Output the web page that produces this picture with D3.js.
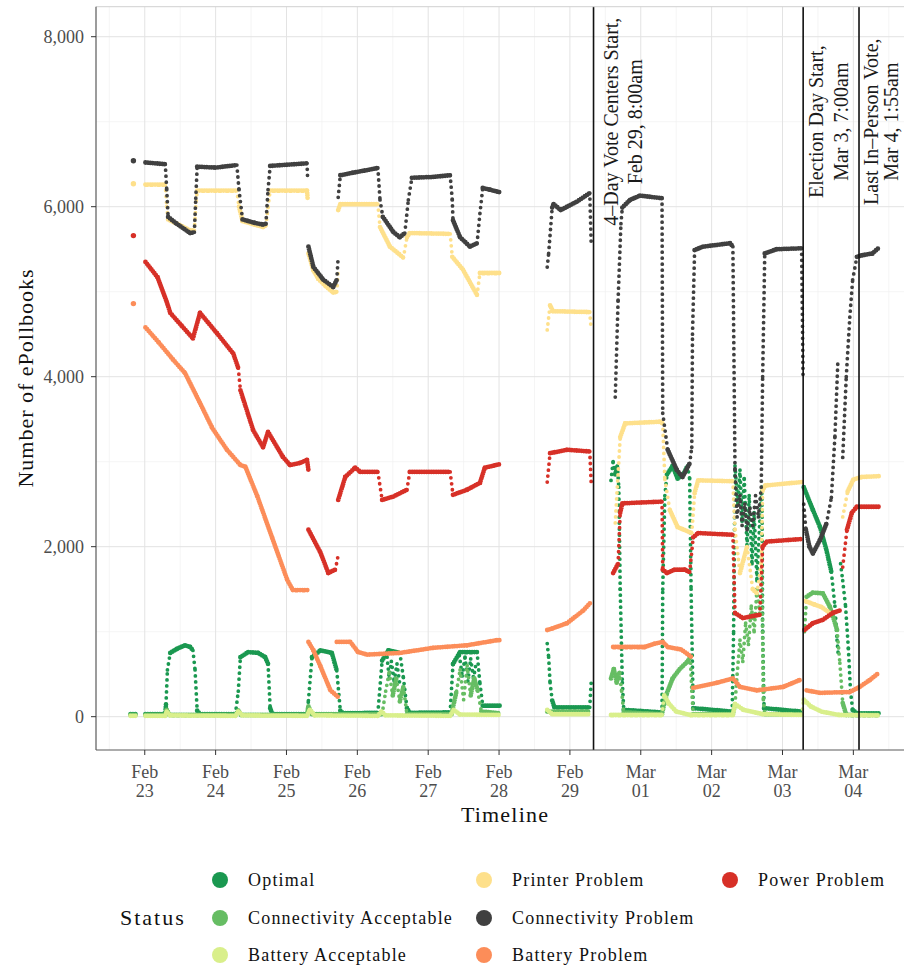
<!DOCTYPE html>
<html><head><meta charset="utf-8">
<script src="https://cdn.jsdelivr.net/npm/d3@7"></script>
<style>body{margin:0;background:#fff;}svg{display:block;}</style>
</head><body>
<svg id="chart" width="904" height="966"></svg>
<script>
// Time is given as days after Feb 23, 2020 00:00 (UTC); values are counts of ePollbooks.
// Each series is a list of runs (gaps in the data separate runs); each run is [day, count] pairs.
const statusNames = ["Optimal","Connectivity Acceptable","Battery Acceptable","Printer Problem","Connectivity Problem","Battery Problem","Power Problem"];
const statusColors = ["#1a9850","#66bd63","#d9ef8b","#fee08b","#404040","#fc8d59","#d73027"];

const optimalRuns = [
 [[-0.20,30],[-0.10,30]],
 [[0.01,30],[0.29,30],[0.30,150],[0.32,550],[0.36,750],[0.46,800],[0.57,840],[0.64,820],[0.68,780],[0.71,550],[0.74,70],[0.78,30],[1.28,30],[1.32,300],[1.35,700],[1.46,760],[1.60,750],[1.70,700],[1.74,620],[1.77,100],[1.80,30],[2.29,30],[2.31,190],[2.36,700],[2.48,780],[2.64,750],[2.71,540],[2.76,70],[2.80,40],[3.29,45],[3.35,660],[3.44,780],[3.60,750],[3.65,460],[3.70,100],[3.74,45],[4.31,50],[4.35,620],[4.45,760],[4.69,760],[4.73,390],[4.77,130],[5.01,130]],
 [[3.42,700],[3.45,450],[3.48,650],[3.52,420],[3.56,620],[3.60,380]],
 [[4.44,720],[4.48,480],[4.52,700],[4.56,420],[4.60,680],[4.64,450],[4.68,650]],
 [[5.68,860],[5.70,700],[5.72,400],[5.75,190],[5.78,110],[6.28,110],[6.30,400]],
 [[6.58,2780],[6.61,3000],[6.64,2850],[6.67,2950],[6.69,2700],[6.71,1500],[6.74,400],[6.76,80],[7.30,50],[7.31,1500],[7.34,2600],[7.37,2850],[7.45,2950],[7.52,2800],[7.60,2850],[7.66,2950],[7.69,2800],[7.71,1500],[7.74,100],[8.29,60],[8.31,1000],[8.33,2950],[8.37,2500],[8.40,2900],[8.43,2300],[8.46,2800],[8.50,2000],[8.53,2600],[8.57,1800],[8.60,2400],[8.64,1600],[8.68,2300],[8.71,2700],[8.72,1000],[8.74,100],[9.27,60]],
 [[9.30,2700],[9.43,2430],[9.53,2230],[9.62,1960],[9.69,1700],[9.74,1300],[9.77,900],[9.79,700]],
 [[9.82,1800],[9.85,1600],[9.89,1300],[9.93,800],[9.96,300],[9.99,80],[10.05,40],[10.37,40]]
];
const connAcceptableRuns = [
 [[-0.20,20],[-0.10,20]],
 [[0.01,20],[0.29,20],[0.31,80],[0.35,20],[1.28,20],[1.32,70],[1.36,20],[2.29,20],[2.31,120],[2.36,30],[3.35,30],[3.40,300],[3.45,520],[3.50,250],[3.55,450],[3.60,180],[3.65,350],[3.70,30],[4.33,30],[4.40,300],[4.45,550],[4.50,200],[4.55,600],[4.60,250],[4.65,450],[4.70,300],[4.75,60],[5.01,40]],
 [[5.68,60],[6.28,60]],
 [[6.58,450],[6.62,560],[6.66,400],[6.70,520],[6.73,300],[6.76,50],[7.30,30],[7.33,150],[7.37,280],[7.45,450],[7.55,560],[7.65,640],[7.70,700],[7.72,300],[7.74,30],[8.30,30],[8.33,150],[8.36,500],[8.40,900],[8.44,650],[8.48,1100],[8.52,850],[8.56,1300],[8.60,1000],[8.64,1500],[8.68,1200],[8.71,1700],[8.73,200],[8.75,30],[9.27,30]],
 [[9.31,1000],[9.34,1410],[9.43,1460],[9.57,1450],[9.67,1290],[9.77,1020],[9.81,630],[9.85,160],[9.90,20],[10.37,20]]
];
const battAcceptableRuns = [
 [[-0.20,10],[-0.10,10]],
 [[0.01,10],[0.29,10],[0.31,60],[0.36,15],[1.28,10],[1.32,60],[1.38,15],[2.29,10],[2.33,80],[2.40,15],[3.29,10],[3.34,60],[3.40,15],[4.31,10],[4.36,80],[4.45,25],[5.01,20]],
 [[5.68,80],[5.75,30],[6.28,30]],
 [[6.58,20],[7.30,20],[7.33,250],[7.40,150],[7.50,60],[7.70,20],[8.30,20],[8.33,150],[8.45,80],[8.72,30],[9.27,20],[9.30,200],[9.40,120],[9.55,60],[9.80,20],[10.37,15]]
];
const printerRuns = [
 [[-0.16,6270]],
 [[0.01,6260],[0.29,6260],[0.31,6000],[0.33,5850],[0.50,5780],[0.64,5720],[0.70,5720],[0.72,6000],[0.74,6190],[1.30,6190],[1.33,6000],[1.38,5830],[1.55,5790],[1.67,5760],[1.71,5780],[1.74,6000],[1.77,6190],[2.29,6190],[2.30,6080]],
 [[2.31,5450],[2.38,5250],[2.45,5150],[2.56,5060],[2.66,4990],[2.71,5000],[2.73,5250]],
 [[2.73,5960],[2.76,6030],[3.29,6030],[3.32,5760],[3.46,5530],[3.65,5400],[3.70,5640],[3.74,5690],[4.31,5680],[4.34,5410],[4.49,5260],[4.69,4960],[4.73,5220],[5.01,5220]],
 [[5.68,4550],[5.72,4840],[5.76,4770],[6.28,4760],[6.30,4550]],
 [[6.64,2280],[6.71,3290],[6.78,3450],[7.27,3470],[7.31,3450],[7.34,2790],[7.41,2430],[7.52,2230],[7.72,2160],[7.76,2630],[7.81,2780],[8.30,2770],[8.33,2200],[8.40,1690],[8.50,2000],[8.58,1500],[8.64,1450],[8.70,1800],[8.72,2667],[8.76,2720],[9.27,2760]],
 [[9.32,1360],[9.45,1320],[9.55,1290],[9.67,1220]],
 [[9.85,2350],[9.92,2650],[10.00,2790],[10.12,2820],[10.37,2830]]
];
const connProblemRuns = [
 [[-0.16,6540]],
 [[0.01,6520],[0.29,6500],[0.31,6200],[0.33,5880],[0.45,5800],[0.64,5690],[0.70,5700],[0.72,6100],[0.74,6470],[1.00,6460],[1.30,6490],[1.33,6200],[1.38,5850],[1.55,5810],[1.67,5790],[1.71,5800],[1.74,6200],[1.77,6480],[2.29,6510],[2.30,6300]],
 [[2.31,5530],[2.38,5290],[2.52,5140],[2.66,5055],[2.71,5140],[2.73,5410]],
 [[2.73,6110],[2.76,6370],[2.94,6400],[3.29,6455],[3.32,6080],[3.36,5880],[3.51,5700],[3.60,5640],[3.67,5690],[3.72,6080],[3.77,6340],[4.07,6350],[4.31,6370],[4.34,6080],[4.35,5840],[4.45,5640],[4.59,5530],[4.69,5570],[4.73,5920],[4.77,6220],[4.87,6200],[5.01,6170]],
 [[5.68,5290],[5.70,5450],[5.75,5990],[5.77,6030],[5.87,5960],[6.10,6060],[6.28,6160],[6.30,5570]],
 [[6.64,3760],[6.68,4900],[6.72,5800],[6.74,5990],[6.85,6080],[6.99,6130],[7.30,6100],[7.31,3570],[7.38,3140],[7.51,2900],[7.59,2820],[7.69,2980],[7.72,3170],[7.73,4500],[7.76,5490],[7.88,5530],[8.26,5570],[8.30,5530],[8.33,2900],[8.36,2350],[8.40,2600],[8.43,2250],[8.47,2500],[8.50,2200],[8.54,2450],[8.58,2250],[8.62,2600],[8.66,2350],[8.70,2700],[8.72,4000],[8.75,5450],[8.92,5500],[9.27,5510],[9.29,4000]],
 [[9.30,2500],[9.33,2200],[9.38,2000],[9.43,1920],[9.53,2080],[9.62,2270],[9.69,2580],[9.74,3300],[9.78,4150]],
 [[9.85,3050],[9.90,4000],[9.95,4700],[9.99,5140],[10.05,5410],[10.13,5430],[10.27,5450],[10.35,5510]]
];
const battProblemRuns = [
 [[-0.16,4860]],
 [[0.01,4580],[0.20,4400],[0.40,4200],[0.57,4040],[0.78,3690],[0.95,3400],[1.16,3140],[1.35,2960],[1.42,2940],[1.59,2590],[1.80,2100],[2.01,1610],[2.09,1490],[2.31,1490]],
 [[2.31,880],[2.38,780],[2.48,590],[2.62,310],[2.73,230]],
 [[2.71,880],[2.90,880],[3.01,760],[3.14,730],[3.60,750],[4.07,810],[4.55,840],[4.97,900],[5.01,900]],
 [[5.68,1020],[5.76,1040],[5.96,1100],[6.19,1250],[6.30,1350]],
 [[6.61,820],[7.06,820],[7.20,860],[7.31,880],[7.38,820],[7.57,790],[7.72,700]],
 [[7.74,340],[8.08,400],[8.30,450],[8.40,350],[8.64,310],[9.01,350],[9.24,430],[9.27,430]],
 [[9.34,310],[9.53,280],[9.95,290],[10.09,350],[10.23,430],[10.35,510]]
];
const powerRuns = [
 [[-0.16,5660]],
 [[0.01,5350],[0.18,5170],[0.31,4880],[0.36,4750],[0.53,4590],[0.68,4450],[0.78,4750],[1.02,4510],[1.25,4270],[1.32,4100],[1.35,3840],[1.53,3370],[1.67,3170],[1.74,3350],[1.95,3055],[2.05,2960],[2.19,2985],[2.29,3020],[2.31,2900]],
 [[2.31,2200],[2.48,1930],[2.59,1690],[2.69,1730],[2.73,1900]],
 [[2.73,2550],[2.83,2820],[2.97,2930],[3.04,2880],[3.29,2880],[3.35,2550],[3.51,2590],[3.70,2670],[3.74,2880],[4.31,2880],[4.35,2610],[4.55,2670],[4.73,2750],[4.80,2930],[5.01,2970]],
 [[5.68,2760],[5.72,3100],[5.96,3140],[6.28,3120],[6.30,2760]],
 [[6.61,1690],[6.68,1800],[6.71,2400],[6.74,2510],[7.30,2530],[7.31,1730],[7.37,1690],[7.48,1730],[7.62,1730],[7.69,1700],[7.74,2110],[7.81,2160],[8.30,2140],[8.33,1220],[8.44,1160],[8.68,1200],[8.72,2000],[8.78,2060],[9.27,2090]],
 [[9.31,1020],[9.43,1100],[9.57,1140],[9.71,1220],[9.81,1250]],
 [[9.85,1760],[9.91,2200],[9.98,2400],[10.05,2470],[10.37,2470]]
];
const seriesRuns = [optimalRuns, connAcceptableRuns, battAcceptableRuns, printerRuns, connProblemRuns, battProblemRuns, powerRuns];

// Events (days after Feb 23) and their two-line labels
const eventDays = [6 + 8/24, 9 + 7/24, 10 + (1 + 55/60)/24];
const eventLabels = [["4\u2013Day Vote Centers Start,","Feb 29, 8:00am"],["Election Day Start,","Mar 3, 7:00am"],["Last In\u2013Person Vote,","Mar 4, 1:55am"]];
const eventLabelValue = 7000;

const yTicks = [0, 2000, 4000, 6000, 8000];
const yMinor = [1000, 3000, 5000, 7000];

// ---------- scales ----------
const base = Date.UTC(2020, 1, 23);
const toDate = d => new Date(base + d * 864e5);
const panel = {left: 96, right: 915, top: 6.7, bottom: 750};
const x = d3.scaleUtc().domain([toDate(-0.688), toDate(10.87)]).range([panel.left, panel.right]);
const y = d3.scaleLinear().domain([-392, 8353]).range([panel.bottom, panel.top]);

const svg = d3.select("#chart");
const FONT = "'Liberation Serif','DejaVu Serif',serif";

// grid
const dayTicks = d3.utcDay.range(toDate(0), toDate(10.5));
const halfDays = d3.utcHour.every(12).range(toDate(-0.6), toDate(10.9)).filter(t => t.getUTCHours() === 12);
const g = svg.append("g");
g.selectAll(".ym").data(yMinor).join("line")
  .attr("x1", panel.left).attr("x2", panel.right).attr("y1", d => y(d)).attr("y2", d => y(d))
  .attr("stroke", "#f0f0f0").attr("stroke-width", 0.7);
g.selectAll(".xm").data(halfDays).join("line")
  .attr("x1", d => x(d)).attr("x2", d => x(d)).attr("y1", panel.top).attr("y2", panel.bottom)
  .attr("stroke", "#f0f0f0").attr("stroke-width", 0.7);
g.selectAll(".yM").data(yTicks).join("line")
  .attr("x1", panel.left).attr("x2", panel.right).attr("y1", d => y(d)).attr("y2", d => y(d))
  .attr("stroke", "#e3e3e3").attr("stroke-width", 1);
g.selectAll(".xM").data(dayTicks).join("line")
  .attr("x1", d => x(d)).attr("x2", d => x(d)).attr("y1", panel.top).attr("y2", panel.bottom)
  .attr("stroke", "#e3e3e3").attr("stroke-width", 1);

// data marks
svg.append("clipPath").attr("id", "clip").append("rect")
  .attr("x", panel.left).attr("y", panel.top).attr("width", panel.right - panel.left).attr("height", panel.bottom - panel.top);
const marks = svg.append("g").attr("clip-path", "url(#clip)");
seriesRuns.forEach((runs, si) => {
  const col = statusColors[si];
  const sg = marks.append("g");
  runs.forEach(run => {
    if (run.length === 1) {
      sg.append("circle").attr("cx", x(toDate(run[0][0]))).attr("cy", y(run[0][1])).attr("r", 2.7).attr("fill", col);
      return;
    }
    for (let i = 0; i < run.length - 1; i++) {
      const x1 = x(toDate(run[i][0])), y1 = y(run[i][1]);
      const x2 = x(toDate(run[i + 1][0])), y2 = y(run[i + 1][1]);
      const dx = Math.abs(x2 - x1), dy = Math.abs(y2 - y1);
      const sparse = dy > 5 * dx && dy > 12;
      sg.append("line").attr("x1", x1).attr("y1", y1).attr("x2", x2).attr("y2", y2)
        .attr("stroke", col).attr("stroke-width", sparse ? 3.8 : 4.8)
        .attr("stroke-linecap", "round")
        .attr("stroke-dasharray", sparse ? "0 6" : "0 2.4");
    }
  });
});

// event lines and labels
const ev = svg.append("g");
eventDays.forEach((d, i) => {
  const xv = x(toDate(d));
  ev.append("line").attr("x1", xv).attr("x2", xv).attr("y1", panel.top).attr("y2", panel.bottom)
    .attr("stroke", "#111").attr("stroke-width", 1.6);
  const offs = [[24, 48], [20, 45], [19, 39]][i];
  eventLabels[i].forEach((txt, j) => {
    ev.append("text").attr("transform", `translate(${xv + offs[j]},${y(eventLabelValue)}) rotate(-90)`)
      .attr("text-anchor", "middle").attr("font-family", FONT).attr("font-size", 20).attr("fill", "#1a1a1a")
      .text(txt);
  });
});

// panel borders / axes
svg.append("line").attr("x1", panel.left).attr("x2", panel.right).attr("y1", panel.top).attr("y2", panel.top).attr("stroke", "#d0d0d0");
svg.append("line").attr("x1", panel.left).attr("x2", panel.left).attr("y1", panel.top).attr("y2", panel.bottom).attr("stroke", "#5a5a5a").attr("stroke-width", 1.2);
svg.append("line").attr("x1", panel.left).attr("x2", panel.right).attr("y1", panel.bottom).attr("y2", panel.bottom).attr("stroke", "#5a5a5a").attr("stroke-width", 1.2);

// y axis
const ya = svg.append("g");
ya.selectAll("line").data(yTicks).join("line")
  .attr("x1", panel.left - 5).attr("x2", panel.left).attr("y1", d => y(d)).attr("y2", d => y(d)).attr("stroke", "#333");
ya.selectAll("text").data(yTicks).join("text")
  .attr("x", panel.left - 12).attr("y", d => y(d) + 6).attr("text-anchor", "end")
  .attr("font-family", FONT).attr("font-size", 18).attr("fill", "#4d4d4d")
  .text(d => d3.format(",")(d));

// x axis
const xa = svg.append("g");
xa.selectAll("line").data(dayTicks).join("line")
  .attr("x1", d => x(d)).attr("x2", d => x(d)).attr("y1", panel.bottom).attr("y2", panel.bottom + 5).attr("stroke", "#333");
const xt = xa.selectAll("text").data(dayTicks).join("text")
  .attr("text-anchor", "middle").attr("font-family", FONT).attr("font-size", 18).attr("fill", "#4d4d4d");
xt.append("tspan").attr("x", d => x(d)).attr("y", 778).text(d3.utcFormat("%b"));
xt.append("tspan").attr("x", d => x(d)).attr("y", 797).text(d3.utcFormat("%d"));

// axis titles
svg.append("text").attr("x", 505).attr("y", 822).attr("text-anchor", "middle")
  .attr("font-family", FONT).attr("font-size", 22).attr("letter-spacing", 1.2).attr("fill", "#111").text("Timeline");
svg.append("text").attr("transform", `translate(33,378) rotate(-90)`).attr("text-anchor", "middle")
  .attr("font-family", FONT).attr("font-size", 22).attr("letter-spacing", 1).attr("fill", "#111").text("Number of ePollbooks");

// legend
const lg = svg.append("g");
lg.append("text").attr("x", 120).attr("y", 925).attr("font-family", FONT).attr("font-size", 22)
  .attr("letter-spacing", 2).attr("fill", "#111").text("Status");
const legendPos = [[220,880],[220,918],[220,955],[484,880],[484,918],[484,955],[730,880]];
statusNames.forEach((name, i) => {
  const [cx, cy] = legendPos[i];
  lg.append("circle").attr("cx", cx).attr("cy", cy).attr("r", 8).attr("fill", statusColors[i]);
  lg.append("text").attr("x", cx + 28).attr("y", cy + 6).attr("font-family", FONT).attr("font-size", 18)
    .attr("letter-spacing", 1.2).attr("fill", "#111").text(name);
});
</script>
</body></html>
